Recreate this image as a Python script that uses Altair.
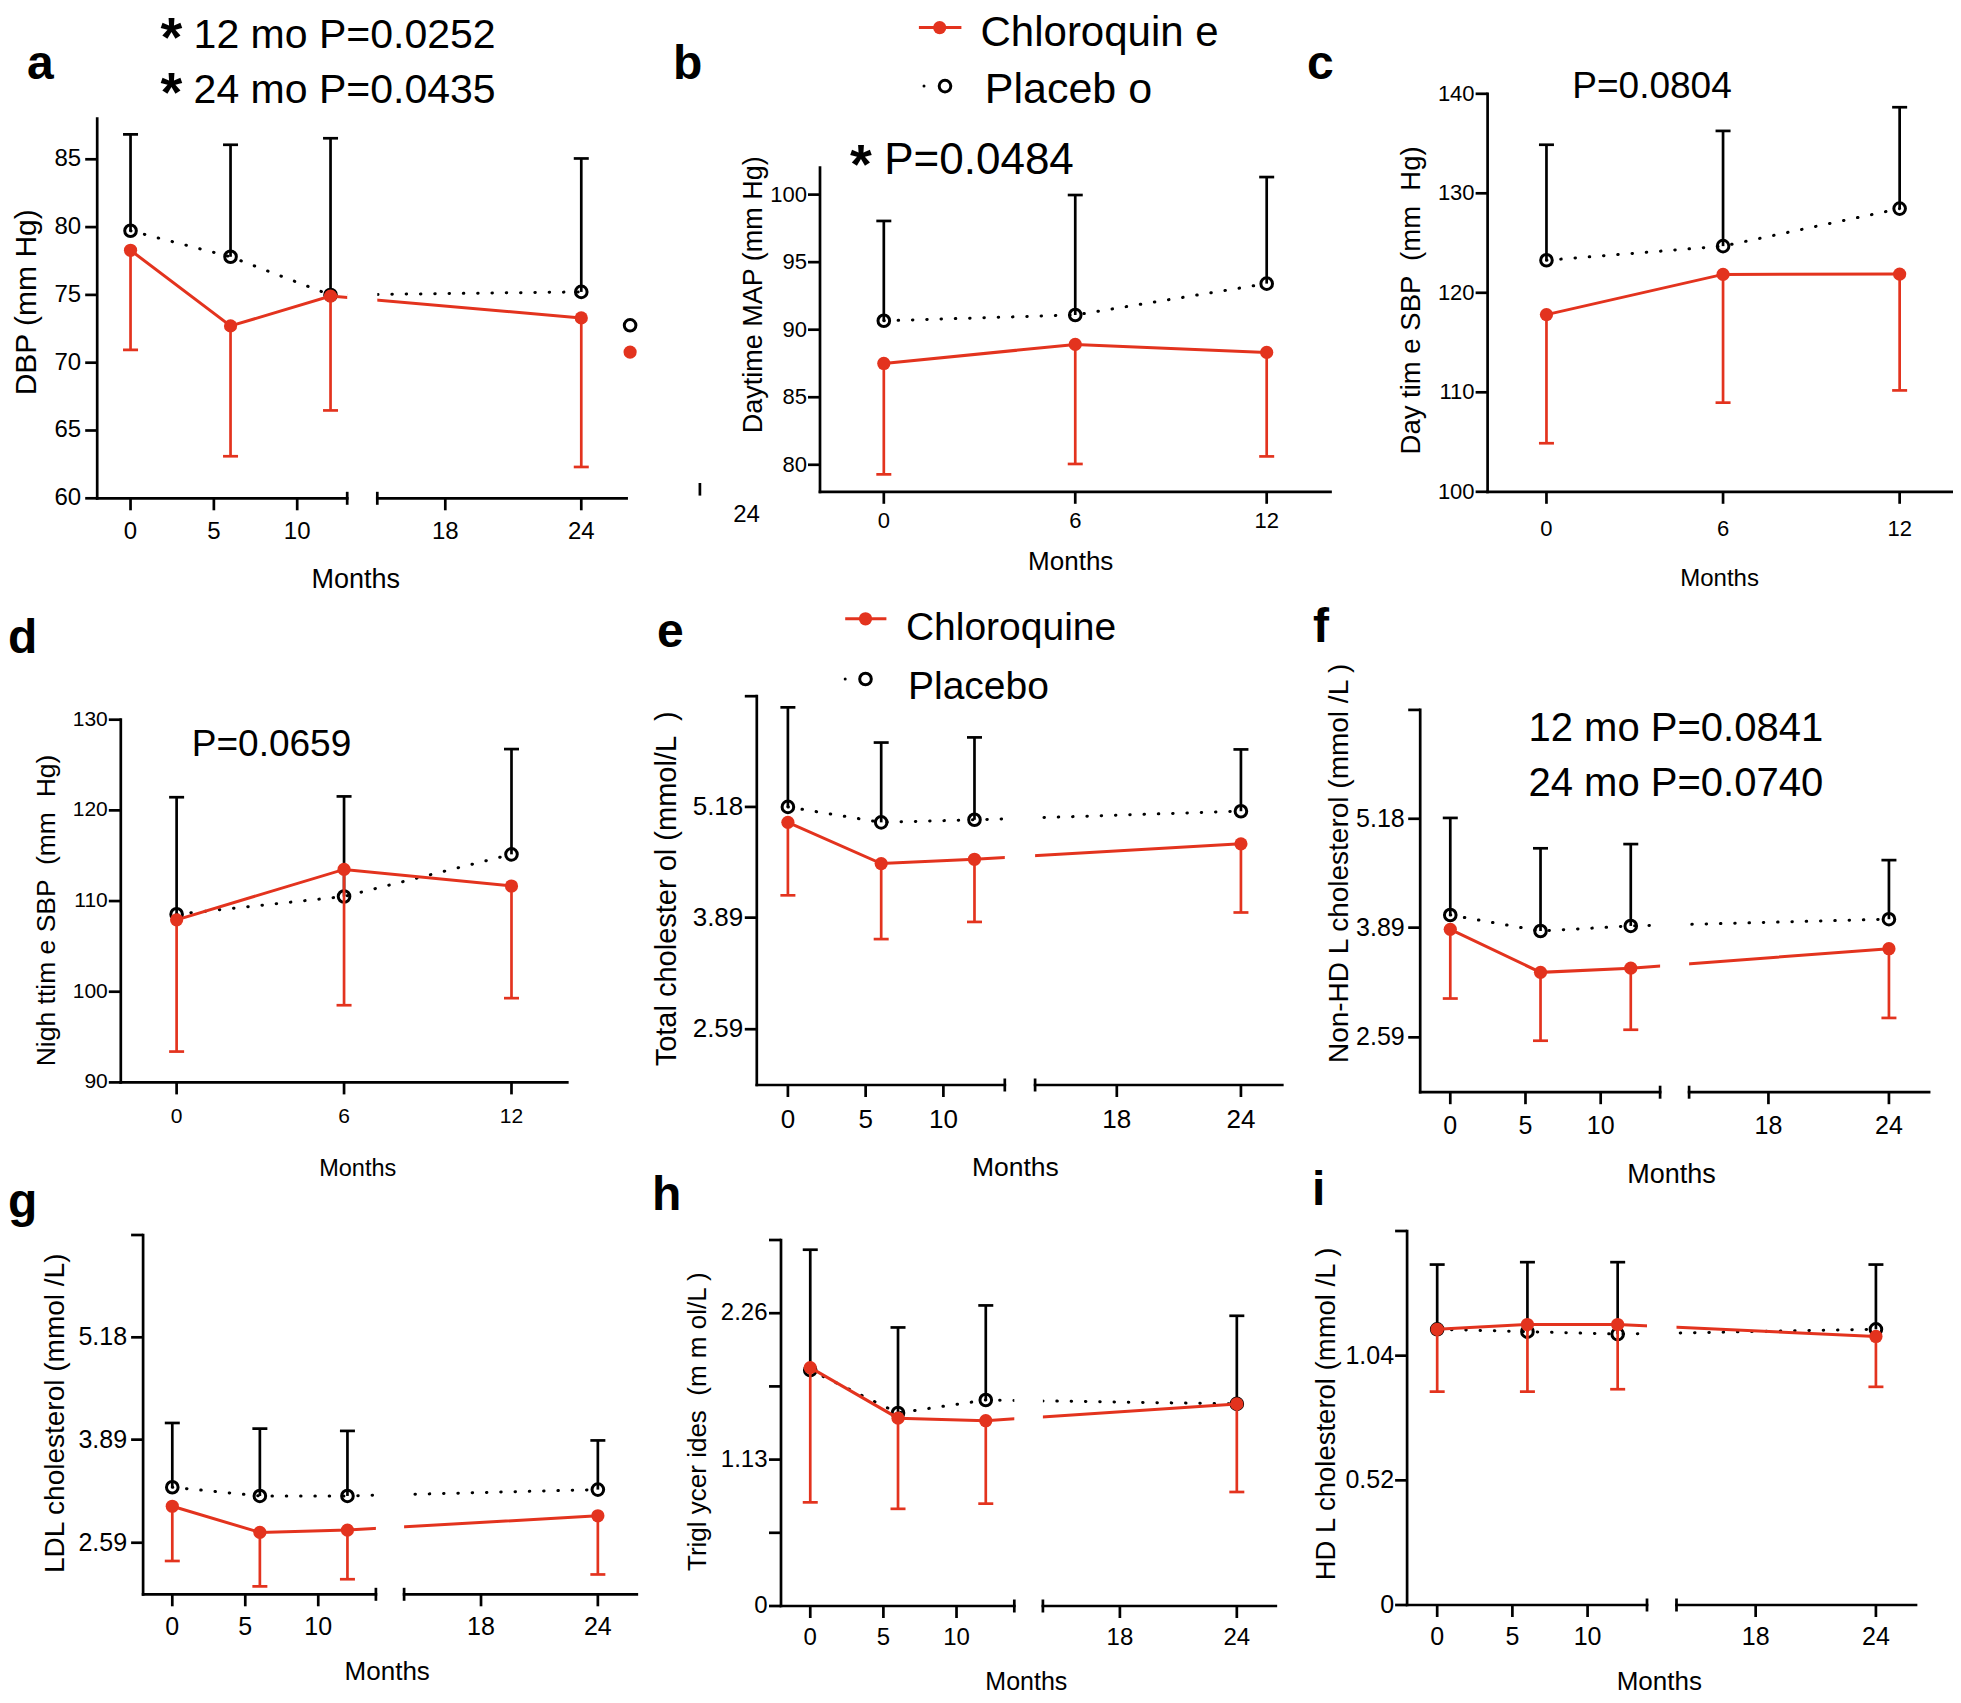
import altair as alt
import pandas as pd

W, H = 1945, 1687
OFF = 8
RED = "#E3331E"
FONT = "Liberation Sans"
NB = "\u00a0"

months4 = [0, 6, 12, 24]
months3 = [0, 6, 12]

# ---- values (mean, upper SD for placebo, lower SD for chloroquine)
a_plc = [79.73, 77.81, 74.99, 75.22]
a_plc_up = [86.83, 86.07, 86.55, 85.06]
a_cq = [78.29, 72.71, 74.91, 73.30]
a_cq_lo = [70.94, 63.10, 66.48, 62.31]

b_plc = [90.66, 91.09, 93.41]
b_plc_up = [98.05, 99.97, 101.30]
b_cq = [87.50, 88.91, 88.32]
b_cq_lo = [79.29, 80.06, 80.62]

c_plc = [123.27, 124.69, 128.46]
c_plc_up = [134.88, 136.27, 138.65]
c_cq = [117.81, 121.85, 121.88]
c_cq_lo = [104.88, 108.96, 110.19]

d_plc = [108.55, 110.50, 115.15]
d_plc_up = [121.45, 121.54, 126.76]
d_cq = [107.93, 113.49, 111.66]
d_cq_lo = [93.40, 98.51, 99.29]

e_plc = [5.18, 5.00, 5.03, 5.13]
e_plc_up = [6.34, 5.93, 5.99, 5.85]
e_cq = [5.00, 4.52, 4.57, 4.75]
e_cq_lo = [4.15, 3.64, 3.84, 3.95]

f_plc = [4.04, 3.85, 3.91, 3.99]
f_plc_up = [5.19, 4.83, 4.88, 4.69]
f_cq = [3.87, 3.36, 3.41, 3.64]
f_cq_lo = [3.05, 2.55, 2.68, 2.82]

g_plc = [3.29, 3.18, 3.18, 3.26]
g_plc_up = [4.10, 4.03, 4.00, 3.88]
g_cq = [3.05, 2.72, 2.75, 2.93]
g_cq_lo = [2.36, 2.04, 2.13, 2.19]

h_plc = [1.82, 1.49, 1.59, 1.56]
h_plc_up = [2.75, 2.15, 2.32, 2.24]
h_cq = [1.84, 1.45, 1.43, 1.56]
h_cq_lo = [0.80, 0.75, 0.79, 0.88]

i_plc = [1.15, 1.14, 1.13, 1.15]
i_plc_up = [1.42, 1.43, 1.43, 1.42]
i_cq = [1.15, 1.17, 1.17, 1.12]
i_cq_lo = [0.89, 0.89, 0.90, 0.91]

# tick values / labels
x_ticks_5 = [0, 5, 10, 18, 24]
x_labels_5 = ["0", "5", "10", "18", "24"]
x_ticks_3 = [0, 6, 12]
x_labels_3 = ["0", "6", "12"]

y_ticks_a = [60, 65, 70, 75, 80, 85]
y_labels_a = ["60", "65", "70", "75", "80", "85"]
y_ticks_b = [80, 85, 90, 95, 100]
y_labels_b = ["80", "85", "90", "95", "100"]
y_ticks_c = [100, 110, 120, 130, 140]
y_labels_c = ["100", "110", "120", "130", "140"]
y_ticks_d = [90, 100, 110, 120, 130]
y_labels_d = ["90", "100", "110", "120", "130"]
y_ticks_chol = [2.59, 3.89, 5.18, 6.47]
y_labels_chol = ["2.59", "3.89", "5.18", ""]
y_ticks_tg = [0, 0.565, 1.13, 1.695, 2.26, 2.825]
y_labels_tg = ["0", "", "1.13", "", "2.26", ""]
y_ticks_hdl = [0, 0.52, 1.04, 1.56]
y_labels_hdl = ["0", "0.52", "1.04", ""]

ONE = alt.Data(values=[{}])
TICK = 12


def panel(months, p, pu, c, cl, xdom, xr, ydom, yr, xt, xl, yt, yl, fs,
          ylab_dx, xlab_dy, brk=None):
    df = pd.DataFrame({"month": months, "p": p, "pu": pu, "c": c, "cl": cl})
    xs = alt.Scale(domain=xdom, range=[v - OFF for v in xr], nice=False, zero=False)
    ys = alt.Scale(domain=ydom, range=[yr[0] - OFF, yr[1] - OFF], nice=False, zero=False)

    def X(f):
        return alt.X(f, type="quantitative", scale=xs, axis=None)

    def Y(f):
        return alt.Y(f, type="quantitative", scale=ys, axis=None)

    base = alt.Chart(df)
    layers = [
        base.mark_line(color="black", strokeDash=[0.5, 13.8], strokeWidth=3,
                       strokeCap="round").encode(x=X("month"), y=Y("p")),
        base.mark_rule(color="black", strokeWidth=2.7).encode(x=X("month"), y=Y("p"), y2="pu"),
        base.mark_tick(color="black", orient="horizontal", size=15, thickness=2.7,
                       opacity=1).encode(x=X("month"), y=Y("pu")),
        base.mark_point(shape="circle", filled=False, color="black", strokeWidth=3,
                        size=135, opacity=1).encode(x=X("month"), y=Y("p")),
        base.mark_line(color=RED, strokeWidth=3).encode(x=X("month"), y=Y("c")),
        base.mark_rule(color=RED, strokeWidth=2.7).encode(x=X("month"), y=Y("c"), y2="cl"),
        base.mark_tick(color=RED, orient="horizontal", size=15, thickness=2.7,
                       opacity=1).encode(x=X("month"), y=Y("cl")),
        base.mark_circle(color=RED, size=175, opacity=1).encode(x=X("month"), y=Y("c")),
    ]
    # axis break: hide the part of the lines that crosses the gap
    if brk is not None:
        lo, hi = brk
        gap = pd.DataFrame({"x": [lo], "x2": [hi], "y": [ydom[0]], "y2": [ydom[1]]})
        layers.append(alt.Chart(gap).mark_rect(color="white", opacity=1).encode(
            x=X("x"), x2="x2", y=Y("y"), y2="y2"))
        segs = pd.DataFrame({"x": [xdom[0], hi], "x2": [lo, xdom[-1]], "y": [ydom[0], ydom[0]]})
        caps = pd.DataFrame({"v": [lo, hi], "y0": [ydom[0], ydom[0]]})
        layers.append(alt.Chart(caps).mark_tick(color="black", orient="vertical", size=13,
                                                thickness=2.7, opacity=1).encode(
            x=X("v"), y=Y("y0")))
    else:
        segs = pd.DataFrame({"x": [xdom[0]], "x2": [xdom[-1]], "y": [ydom[0]]})
    # axis lines
    layers.append(alt.Chart(segs).mark_rule(color="black", strokeWidth=2.7,
                                            strokeCap="square").encode(
        x=X("x"), x2="x2", y=Y("y")))
    yline = pd.DataFrame({"x": [xdom[0]], "y": [ydom[0]], "y2": [ydom[1]]})
    layers.append(alt.Chart(yline).mark_rule(color="black", strokeWidth=2.7,
                                             strokeCap="square").encode(
        x=X("x"), y=Y("y"), y2="y2"))
    # y ticks and labels
    ydf = pd.DataFrame({"v": yt, "lab": yl, "x0": [xdom[0]] * len(yt)})
    layers.append(alt.Chart(ydf).mark_tick(color="black", orient="horizontal", size=TICK,
                                           thickness=2.7, xOffset=-TICK / 2, opacity=1).encode(
        x=X("x0"), y=Y("v")))
    layers.append(alt.Chart(ydf).mark_text(align="right", baseline="middle", dx=ylab_dx,
                                           font=FONT, fontSize=fs, color="black").encode(
        x=X("x0"), y=Y("v"), text="lab:N"))
    # x ticks and labels
    xdf = pd.DataFrame({"v": xt, "lab": xl, "y0": [ydom[0]] * len(xt)})
    layers.append(alt.Chart(xdf).mark_tick(color="black", orient="vertical", size=TICK,
                                           thickness=2.7, yOffset=TICK / 2, opacity=1).encode(
        x=X("v"), y=Y("y0")))
    layers.append(alt.Chart(xdf).mark_text(align="center", baseline="alphabetic", dy=xlab_dy,
                                           font=FONT, fontSize=fs, color="black").encode(
        x=X("v"), y=Y("y0"), text="lab:N"))
    return alt.layer(*layers)


def txt(s, x, y, size, align="left", weight="normal", angle=0):
    return alt.Chart(ONE).mark_text(
        text=s, align=align, baseline="alphabetic", font=FONT, fontSize=size,
        fontWeight=weight, angle=angle, color="black"
    ).encode(x=alt.value(x - OFF), y=alt.value(y - OFF))


def dot(x, y, size, filled=True, color=RED):
    if filled:
        return alt.Chart(ONE).mark_circle(color=color, size=size, opacity=1).encode(
            x=alt.value(x - OFF), y=alt.value(y - OFF))
    return alt.Chart(ONE).mark_point(shape="circle", filled=False, color=color, strokeWidth=3,
                                     size=size, opacity=1).encode(
        x=alt.value(x - OFF), y=alt.value(y - OFF))


def seg(x1, x2, y, color=RED):
    return alt.Chart(ONE).mark_rule(color=color, strokeWidth=3).encode(
        x=alt.value(x1 - OFF), x2=alt.value(x2 - OFF), y=alt.value(y - OFF))


def vseg(x, y1, y2, color="black"):
    return alt.Chart(ONE).mark_rule(color=color, strokeWidth=2.7).encode(
        x=alt.value(x - OFF), y=alt.value(y1 - OFF), y2=alt.value(y2 - OFF))


BRK = [-2, 13.95, 14.05, 26]
panels = [
    panel(months4, a_plc, a_plc_up, a_cq, a_cq_lo, [-2, 13, 15, 26], [97.2, 347.2, 377.3, 626.6],
          [60, 88], [498.3, 118.6], x_ticks_5, x_labels_5, y_ticks_a, y_labels_a,
          24, -16, 41, brk=(13, 15)),
    panel(months3, b_plc, b_plc_up, b_cq, b_cq_lo, [-2, 14], [820, 1330.5],
          [78, 102], [491.8, 167.6], x_ticks_3, x_labels_3, y_ticks_b, y_labels_b, 22, -13, 36),
    panel(months3, c_plc, c_plc_up, c_cq, c_cq_lo, [-2, 14], [1487.6, 1958.5],
          [100, 140], [491.8, 93.8], x_ticks_3, x_labels_3, y_ticks_c, y_labels_c, 22, -13, 44),
    panel(months3, d_plc, d_plc_up, d_cq, d_cq_lo, [-2, 14], [120.8, 567.3],
          [90, 130], [1082.4, 719.7], x_ticks_3, x_labels_3, y_ticks_d, y_labels_d, 21, -13, 40.5),
    panel(months4, e_plc, e_plc_up, e_cq, e_cq_lo, BRK, [756.8, 1004.8, 1035.1, 1282.3],
          [1.94, 6.47], [1085.0, 696.2], x_ticks_5, x_labels_5, y_ticks_chol, y_labels_chol,
          26, -13.5, 43, brk=(13.95, 14.05)),
    panel(months4, f_plc, f_plc_up, f_cq, f_cq_lo, BRK, [1420.2, 1660.1, 1689.1, 1929.1],
          [1.94, 6.47], [1092.2, 709.9], x_ticks_5, x_labels_5, y_ticks_chol, y_labels_chol,
          25, -15.5, 42, brk=(13.95, 14.05)),
    panel(months4, g_plc, g_plc_up, g_cq, g_cq_lo, BRK, [143.1, 375.9, 404.1, 636.8],
          [1.94, 6.47], [1594.3, 1235.0], x_ticks_5, x_labels_5, y_ticks_chol, y_labels_chol,
          25, -16, 40.5, brk=(13.95, 14.05)),
    panel(months4, h_plc, h_plc_up, h_cq, h_cq_lo, BRK, [781.0, 1014.3, 1042.9, 1275.8],
          [0, 2.825], [1606.0, 1240.0], x_ticks_5, x_labels_5, y_ticks_tg, y_labels_tg,
          24, -13.5, 39, brk=(13.95, 14.05)),
    panel(months4, i_plc, i_plc_up, i_cq, i_cq_lo, BRK, [1407.1, 1647.0, 1676.5, 1916.0],
          [0, 1.56], [1605.0, 1231.0], x_ticks_5, x_labels_5, y_ticks_hdl, y_labels_hdl,
          25, -13, 40, brk=(13.95, 14.05)),
]

texts = [
    # panel letters
    txt("a", 27, 78.5, 48, weight="bold"),
    txt("b", 673, 78.5, 48, weight="bold"),
    txt("c", 1307, 78.5, 48, weight="bold"),
    txt("d", 8, 652.7, 48, weight="bold"),
    txt("e", 657, 647, 48, weight="bold"),
    txt("f", 1313, 642, 48, weight="bold"),
    txt("g", 8, 1217, 48, weight="bold"),
    txt("h", 652, 1210, 48, weight="bold"),
    txt("i", 1312, 1205, 48, weight="bold"),
    # annotations
    txt("*", 171.5, 55.5, 56, align="center", weight="bold"),
    txt("12 mo P=0.0252", 193.6, 47.8, 41),
    txt("*", 171.5, 111.0, 56, align="center", weight="bold"),
    txt("24 mo P=0.0435", 193.6, 103.3, 41),
    txt("*", 861, 182.7, 56, align="center", weight="bold"),
    txt("P=0.0484", 884.2, 174.1, 44),
    txt("24", 746.5, 522.4, 24, align="center"),
    vseg(699.9, 483, 495.6),
    txt("P=0.0804", 1652, 97.6, 37, align="center"),
    txt("P=0.0659", 271.5, 756.2, 37, align="center"),
    txt("12 mo P=0.0841", 1528.5, 741.1, 40),
    txt("24 mo P=0.0740", 1528.5, 796.4, 40),
    # legends
    seg(918.9, 961.4, 27.6), dot(939.7, 27.6, 175),
    txt("Chloroquin e", 980.5, 45.5, 42),
    dot(924, 86.1, 9, color="black"), dot(945, 86.1, 135, filled=False, color="black"),
    txt("Placeb o", 984.8, 102.6, 43),
    seg(845.2, 886.4, 618.8), dot(865.5, 618.8, 175),
    txt("Chloroquine", 905.9, 639.5, 39),
    dot(845.2, 679, 9, color="black"), dot(865.5, 679, 135, filled=False, color="black"),
    txt("Placebo", 908, 698.6, 39),
    dot(630.1, 325.3, 135, filled=False, color="black"), dot(630.1, 352.1, 175),
    # x titles
    txt("Months", 355.7, 587.5, 27, align="center"),
    txt("Months", 1070.7, 570.2, 26, align="center"),
    txt("Months", 1719.6, 585.5, 24, align="center"),
    txt("Months", 357.7, 1175.7, 23.5, align="center"),
    txt("Months", 1015.4, 1175.7, 26.5, align="center"),
    txt("Months", 1671.5, 1182.5, 27, align="center"),
    txt("Months", 387.2, 1680, 26, align="center"),
    txt("Months", 1026.3, 1689.5, 25, align="center"),
    txt("Months", 1659.3, 1689.5, 26, align="center"),
    # y titles
    txt("DBP (mm Hg)", 35.8, 302.3, 30, align="center", angle=270),
    txt("Daytime MAP (mm Hg)", 761.9, 294.7, 27, align="center", angle=270),
    txt("Day tim e SBP " + NB + "(mm " + NB + "Hg)", 1420.2, 300.4, 27.5, align="center", angle=270),
    txt("Nigh ttim e SBP " + NB + "(mm " + NB + "Hg)", 54.7, 910.5, 26.5, align="center", angle=270),
    txt("Total cholester ol (mmol/L " + NB + ")", 676, 888.8, 29, align="center", angle=270),
    txt("Non-HD L cholesterol (mmol /L )", 1347.8, 863.4, 28, align="center", angle=270),
    txt("LDL cholesterol (mmol /L)", 64, 1413.3, 28, align="center", angle=270),
    txt("Trigl ycer ides " + NB + "(m m ol/L )", 706.4, 1421.7, 26, align="center", angle=270),
    txt("HD L cholesterol (mmol /L )", 1335, 1414, 27.5, align="center", angle=270),
]

chart = alt.layer(*panels, *texts).resolve_scale(
    x="independent", y="independent"
).properties(
    width=W, height=H, padding=0, autosize=alt.AutoSizeParams(type="none")
).configure_view(stroke=None)

chart.save("out.html", embed_options={"renderer": "svg", "actions": False})
